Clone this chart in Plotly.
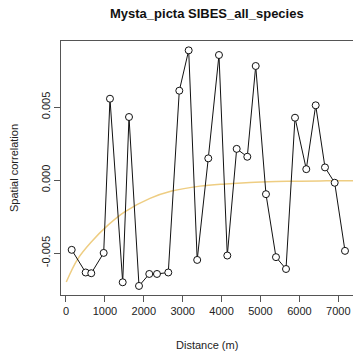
import plotly.graph_objects as go

# Observed correlogram points (distance in m, spatial correlation)
distance = [147, 506, 650, 969, 1131, 1458, 1620, 1877, 2141, 2339, 2630, 2913,
            3154, 3373, 3658, 3933, 4147, 4388, 4661, 4877, 5141, 5398, 5656,
            5887, 6177, 6419, 6658, 6907, 7172]
correlation = [-0.00477, -0.00632, -0.00637, -0.00498, 0.00557, -0.00699, 0.00432,
               -0.00724, -0.00642, -0.00642, -0.00632, 0.00612, 0.00888, -0.00546,
               0.00149, 0.00856, -0.00516, 0.00214, 0.00160, 0.00781, -0.00096,
               -0.00527, -0.00608, 0.00427, 0.00075, 0.00512, 0.00087, -0.00018,
               -0.00484]

# Fitted model curve
model_x = [8, 300, 650, 1080, 1509, 2159, 2717, 3445, 4100, 4730, 5400, 6015, 6700, 7400]
model_y = [-0.00697, -0.00540, -0.00423, -0.00308, -0.00217, -0.00125, -0.00075,
           -0.00041, -0.00026, -0.00016, -0.00010, -0.00007, -0.00005, -0.00004]

x_ticks = [0, 1000, 2000, 3000, 4000, 5000, 6000, 7000]
y_ticks = [-0.005, 0.0, 0.005]
y_tick_labels = ["-0.005", "0.000", "0.005"]

fig = go.Figure()
fig.add_trace(go.Scatter(
    x=model_x, y=model_y, mode="lines",
    line=dict(color="rgb(238,205,130)", width=1.5, shape="spline", smoothing=1.0),
    hoverinfo="skip", showlegend=False))
fig.add_trace(go.Scatter(
    x=distance, y=correlation, mode="lines+markers",
    line=dict(color="#111111", width=1),
    marker=dict(symbol="circle", size=7, color="white",
                line=dict(color="#111111", width=1)),
    showlegend=False))

font_family = "Liberation Sans, Arial, Helvetica, sans-serif"

fig.update_layout(
    width=353, height=358,
    margin=dict(l=61, r=0, t=41, b=63, autoexpand=False),
    paper_bgcolor="white", plot_bgcolor="white",
    font=dict(family=font_family, size=11, color="#222222"),
    xaxis=dict(range=[-128, 7378], tickvals=x_ticks, automargin=False,
               ticktext=[str(v) for v in x_ticks],
               showgrid=False, zeroline=False, showline=True, mirror=True,
               linecolor="#555555", linewidth=1,
               ticks="outside", ticklen=6, tickcolor="#555555", tickwidth=1,
               tickfont=dict(size=11)),
    yaxis=dict(range=[-0.00786, 0.00952], tickvals=y_ticks, ticktext=y_tick_labels,
               automargin=False,
               showgrid=False, zeroline=False, showline=True, mirror=False,
               linecolor="#555555", linewidth=1, tickangle=-90,
               ticks="outside", ticklen=6, tickcolor="#555555", tickwidth=1,
               tickfont=dict(size=11)),
    annotations=[
        dict(text="<b>Mysta_picta SIBES_all_species</b>", xref="paper", yref="paper",
             x=0.5, y=1 + (41 - 14) / 254, xanchor="center", yanchor="middle",
             showarrow=False, font=dict(size=13, color="#111111")),
        dict(text="Distance (m)", xref="paper", yref="paper",
             x=0.5, y=-(345 - 295) / 254, xanchor="center", yanchor="middle",
             showarrow=False, font=dict(size=11, color="#222222")),
        dict(text="Spatial correlation", xref="paper", yref="paper",
             x=-(61 - 14) / 292, y=0.5, xanchor="center", yanchor="middle",
             textangle=-90, showarrow=False, font=dict(size=11, color="#222222")),
    ],
)

fig.write_html("out.html",
               config={"displayModeBar": False},
               post_script="document.body.style.margin='0px';"
                           "document.body.style.overflow='hidden';")
